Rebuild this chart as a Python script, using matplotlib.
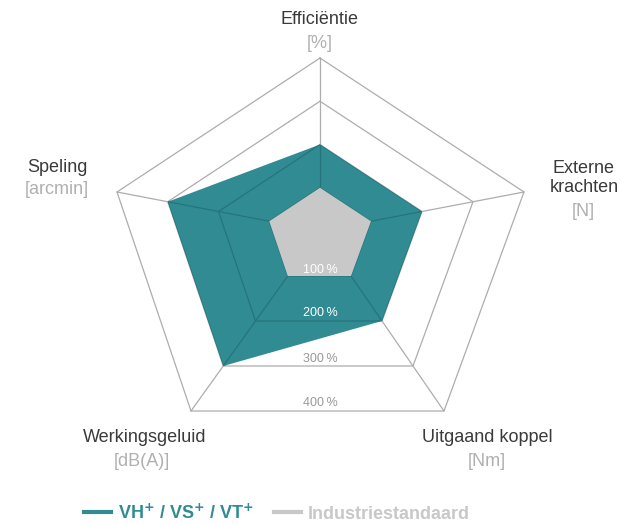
import numpy as np
import matplotlib
matplotlib.use("Agg")
from matplotlib import pyplot as plt
from matplotlib.patches import Polygon
from matplotlib.lines import Line2D

plt.rcParams['font.family'] = ['Liberation Sans', 'DejaVu Sans']

# data
axis_names = ["Efficiëntie", "Externe\nkrachten", "Uitgaand koppel", "Werkingsgeluid", "Speling"]
axis_units = ["[%]", "[N]", "[Nm]", "[dB(A)]", "[arcmin]"]
vh_values = [2, 2, 2, 3, 3]
industry_values = [1, 1, 1, 1, 1]
ring_levels = [1, 2, 3, 4]
ring_labels = ["100\u2009%", "200\u2009%", "300\u2009%", "400\u2009%"]
series_names = [r"VH$^{\mathbf{+}}$ / VS$^{\mathbf{+}}$ / VT$^{\mathbf{+}}$", "Industriestandaard"]

teal = "#318b93"
teal_dark = "#26747b"
grey_fill = "#c8c8c8"
grid_col = "#adadad"

# spoke ends (outer ring) in pixels around the centre, per ring unit
spokes = np.array([(0, 173), (204, 39), (124, -180), (-129, -180), (-203, 39)]) / 4.0
label_pos = [(0, 211), (264, 53), (167, -207), (-175, -207), (-263, 63)]
unit_pos = [(0, 187), (263, 19), (167, -230), (-178, -230), (-263, 41)]


def pts(values):
    return spokes * np.asarray(values, dtype=float)[:, None]


fig = plt.figure(figsize=(6.21, 5.24), dpi=100)
ax = fig.add_axes([0, 0, 1, 1])
ax.set_xlim(-320, 301)
ax.set_ylim(-293, 231)
ax.axis('off')

rmax = max(ring_levels)

# grid
def draw_grid(color, z, clip=None):
    arts = []
    for lv in ring_levels:
        p = pts([lv] * len(axis_names))
        p = np.vstack([p, p[:1]])
        arts += ax.plot(p[:, 0], p[:, 1], color=color, lw=0.9, zorder=z)
    for s in spokes:
        arts += ax.plot([0, s[0] * rmax], [0, s[1] * rmax], color=color, lw=0.9, zorder=z)
    if clip is not None:
        for a in arts:
            a.set_clip_path(clip)

draw_grid(grid_col, 1)

teal_poly = Polygon(pts(vh_values), closed=True, facecolor=teal, edgecolor='none', zorder=2)
ax.add_patch(teal_poly)
draw_grid(teal_dark, 3, clip=teal_poly)

ax.add_patch(Polygon(pts(industry_values), closed=True, facecolor=grey_fill,
                     edgecolor='none', zorder=4))

# ring labels
for lv, lab in zip(ring_levels, ring_labels):
    y = spokes[2, 1] * lv + (0 if lv == 1 else 1.5)
    col = 'white' if lv <= 2 else '#999999'
    ax.text(0, y, lab, ha='center', va='bottom', fontsize=9, color=col, zorder=5)

# axis labels
for name, unit, lp, up in zip(axis_names, axis_units, label_pos, unit_pos):
    ax.text(lp[0], lp[1], name, ha='center', va='center', fontsize=13, color='#3a3a3a')
    ax.text(up[0], up[1], unit, ha='center', va='center', fontsize=13, color='#b0b0b0')

# legend
handles = [Line2D([], [], color=teal, lw=3), Line2D([], [], color=grey_fill, lw=3)]
leg = fig.legend(handles, series_names, loc='center', bbox_to_anchor=(0.446, 0.021),
                 ncol=2, frameon=False, handlelength=1.5, handletextpad=0.4,
                 columnspacing=1.1, prop={'weight': 'bold', 'size': 13})
for t, c in zip(leg.get_texts(), [teal, grey_fill]):
    t.set_color(c)

fig.savefig("out.png", dpi=100)
